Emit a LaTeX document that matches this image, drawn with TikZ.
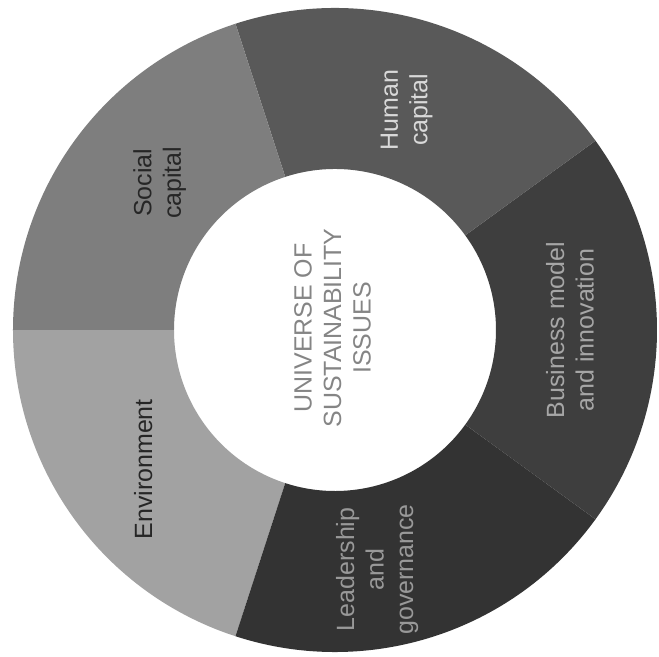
\documentclass[tikz,border=0pt]{standalone}
\usepackage{fontspec}
\setmainfont{Liberation Sans}
\definecolor{envgray}{HTML}{A2A2A2}
\definecolor{socgray}{HTML}{7E7E7E}
\definecolor{humgray}{HTML}{595959}
\definecolor{busgray}{HTML}{3E3E3E}
\definecolor{leadgray}{HTML}{333333}
\begin{document}
\begin{tikzpicture}[lbl/.style={rotate=90,align=center,inner sep=0pt,font=\fontsize{14.2}{16.8}\selectfont}]
			\useasboundingbox (-6.70,-6.54) rectangle (6.48,6.60);
			\fill[envgray] (180:6.44) arc[start angle=180,end angle=252,radius=6.44] -- (252:3.22) arc[start angle=252,end angle=180,radius=3.22] -- cycle;
			\fill[leadgray] (252:6.44) arc[start angle=252,end angle=324,radius=6.44] -- (324:3.22) arc[start angle=324,end angle=252,radius=3.22] -- cycle;
			\fill[busgray] (-36:6.44) arc[start angle=-36,end angle=36,radius=6.44] -- (36:3.22) arc[start angle=36,end angle=-36,radius=3.22] -- cycle;
			\fill[humgray] (36:6.44) arc[start angle=36,end angle=108,radius=6.44] -- (108:3.22) arc[start angle=108,end angle=36,radius=3.22] -- cycle;
			\fill[socgray] (108:6.44) arc[start angle=108,end angle=180,radius=6.44] -- (180:3.22) arc[start angle=180,end angle=108,radius=3.22] -- cycle;
			\node[lbl,text=black!85] (env) at (216:4.74) {Environment};
			\node[lbl,text=black!85] (soc) at (140:4.58) {Social\\capital};
			\node[lbl,text=black!15] (hum) at (72:4.63) {Human\\capital};
			\node[lbl,text=black!35] (bus) at (0:4.70) {Business model\\and innovation};
			\node[lbl,text=black!40] (lead) at (-80:4.86) {Leadership\\and\\governance};
			\node[lbl,text=black!48] (univ) at (-0.05,0.04) {UNIVERSE OF\\SUSTAINABILITY\\ISSUES};
		\end{tikzpicture}
\end{document}
